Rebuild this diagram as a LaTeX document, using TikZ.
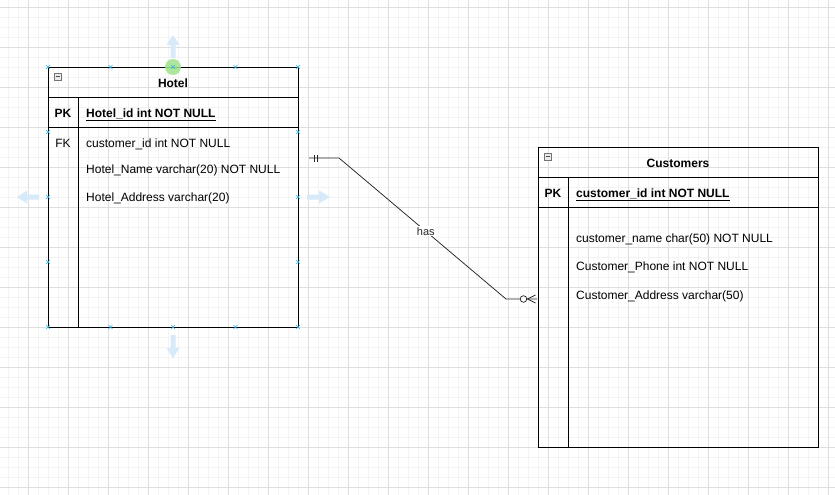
\documentclass[tikz,border=0pt]{standalone}
\usepackage{fontspec}
\setmainfont{Liberation Sans}
\usetikzlibrary{positioning,calc}
\definecolor{gridminor}{RGB}{243,243,243}
\definecolor{gridmajor}{RGB}{222,222,222}
\definecolor{handleblue}{RGB}{41,182,242}
\definecolor{hoverblue}{RGB}{214,234,250}
\definecolor{hovergreen}{RGB}{160,226,140}
\begin{document}
\begin{tikzpicture}[x=1pt, y=-1pt, font=\fontsize{12}{14}\selectfont]
    \tikzstyle{table} = [rectangle, draw=black, line width=1pt, inner sep=0pt]
    \tikzstyle{title} = [inner sep=0pt, anchor=base, font=\fontsize{12}{14}\selectfont\bfseries]
    \tikzstyle{key} = [inner sep=0pt, anchor=base]
    \tikzstyle{field} = [inner sep=0pt, anchor=base west]
    \tikzstyle{rule} = [draw=black, line width=1pt]
    \tikzstyle{link} = [draw=black!85, line width=0.75pt]
    \tikzstyle{handle} = [draw=handleblue, line width=0.6pt]
    \tikzstyle{hover} = [fill=hoverblue, draw=none]
    \useasboundingbox (0,0) rectangle (835,495);
    \fill[white] (0,0) rectangle (835,495);

    % grid
    \foreach \gx in {8,18,...,828} \draw[gridminor, line width=0.8pt] (\gx,0) -- (\gx,495);
    \foreach \gy in {7,17,...,487} \draw[gridminor, line width=0.8pt] (0,\gy) -- (835,\gy);
    \foreach \gx in {28,68,...,828} \draw[gridmajor, line width=0.8pt] (\gx,0) -- (\gx,495);
    \foreach \gy in {7,47,...,487} \draw[gridmajor, line width=0.8pt] (0,\gy) -- (835,\gy);

    % Hotel table
    \node (hotel) [table, minimum width=250pt, minimum height=260pt, anchor=north west] at (48,67) {};
    \draw[rule] ($(hotel.north west)+(0,30)$) -- ($(hotel.north east)+(0,30)$);
    \draw[rule] ($(hotel.north west)+(0,60)$) -- ($(hotel.north east)+(0,60)$);
    \draw[rule] ($(hotel.north west)+(30,30)$) -- ($(hotel.south west)+(30,0)$);
    \draw[fill=black!8, draw=black!55, line width=0.6pt] (54,73) rectangle (61,80);
    \draw[black!70, line width=0.8pt] (55.5,76.5) -- (59.5,76.5);
    \node (hoteltitle) [title] at (173,87.3) {Hotel};
    \node (hotelpk) [key, font=\fontsize{12}{14}\selectfont\bfseries] at (63,117) {PK};
    \node (hotelid) [field, font=\fontsize{12}{14}\selectfont\bfseries] at (86,117) {\underline{Hotel\_id int NOT NULL}};
    \node (hotelfk) [key] at (63,147) {FK};
    \node (hotelcust) [field] at (86,147) {customer\_id int NOT NULL};
    \node (hotelname) [field] at (86,173) {Hotel\_Name varchar(20) NOT NULL};
    \node (hoteladdr) [field] at (86,201.5) {Hotel\_Address varchar(20)};

    % Customers table
    \node (customers) [table, minimum width=280pt, minimum height=300pt, anchor=north west] at (538,147) {};
    \draw[rule] ($(customers.north west)+(0,30)$) -- ($(customers.north east)+(0,30)$);
    \draw[rule] ($(customers.north west)+(0,60)$) -- ($(customers.north east)+(0,60)$);
    \draw[rule] ($(customers.north west)+(30,30)$) -- ($(customers.south west)+(30,0)$);
    \draw[fill=black!8, draw=black!55, line width=0.6pt] (544,153) rectangle (551,160);
    \draw[black!70, line width=0.8pt] (545.5,156.5) -- (549.5,156.5);
    \node (custtitle) [title] at (678,167.3) {Customers};
    \node (custpk) [key, font=\fontsize{12}{14}\selectfont\bfseries] at (553,197) {PK};
    \node (custid) [field, font=\fontsize{12}{14}\selectfont\bfseries] at (576,197) {\underline{customer\_id int NOT NULL}};
    \node (custname) [field] at (576,242.5) {customer\_name char(50) NOT NULL};
    \node (custphone) [field] at (576,270.5) {Customer\_Phone int NOT NULL};
    \node (custaddr) [field] at (576,299) {Customer\_Address varchar(50)};

    % relation
    \coordinate (hasstart) at ($(hotel.east)+(10,-39.5)$);
    \coordinate (hasend) at ($(customers.west)+(-1,1.5)$);
    \draw[link] (hasstart) -- ++(30,0) -- node[pos=0.52, fill=white, inner sep=1pt, text=black!85, font=\fontsize{11}{13}\selectfont] (haslabel) {has} ($(hasend)+(-31,0)$) -- (hasend);
    \draw[link] ($(hasstart)+(5.5,-3.5)$) -- ++(0,7);
    \draw[link] ($(hasstart)+(8,-3.5)$) -- ++(0,7);
    \draw[link, fill=white] ($(hasend)+(-13.5,0)$) circle (3.3);
    \draw[link] ($(hasend)+(-9.5,0)$) -- ($(hasend)+(-1.5,-4)$);
    \draw[link] ($(hasend)+(-9.5,0)$) -- ($(hasend)+(-1.5,4)$);

    % selection handles
    \foreach \hx in {48,110.5,235.5,298} {
        \draw[handle] (\hx-2,65) -- (\hx+2,69) (\hx-2,69) -- (\hx+2,65);
    }
    \foreach \hx in {48,110.5,173,235.5,298} {
        \draw[handle] (\hx-2,325) -- (\hx+2,329) (\hx-2,329) -- (\hx+2,325);
    }
    \foreach \hy in {132,197,262} {
        \draw[handle] (46,\hy-2) -- (50,\hy+2) (46,\hy+2) -- (50,\hy-2);
        \draw[handle] (296,\hy-2) -- (300,\hy+2) (296,\hy+2) -- (300,\hy-2);
    }
    \fill[hover] (170.5,58) -- (170.5,45) -- (166.5,45) -- (173,35) -- (179.5,45) -- (175.5,45) -- (175.5,58) -- cycle;
    \fill[hover] (170.5,335) -- (170.5,348) -- (166.5,348) -- (173,358) -- (179.5,348) -- (175.5,348) -- (175.5,335) -- cycle;
    \fill[hover] (39,194.5) -- (27,194.5) -- (27,190.5) -- (17,197) -- (27,203.5) -- (27,199.5) -- (39,199.5) -- cycle;
    \fill[hover] (307,194.5) -- (319,194.5) -- (319,190.5) -- (330,197) -- (319,203.5) -- (319,199.5) -- (307,199.5) -- cycle;
    \fill[hovergreen, opacity=0.85] (173,67) circle (8);
    \draw[handle] (171,65) -- (175,69) (171,69) -- (175,65);
\end{tikzpicture}
\end{document}
